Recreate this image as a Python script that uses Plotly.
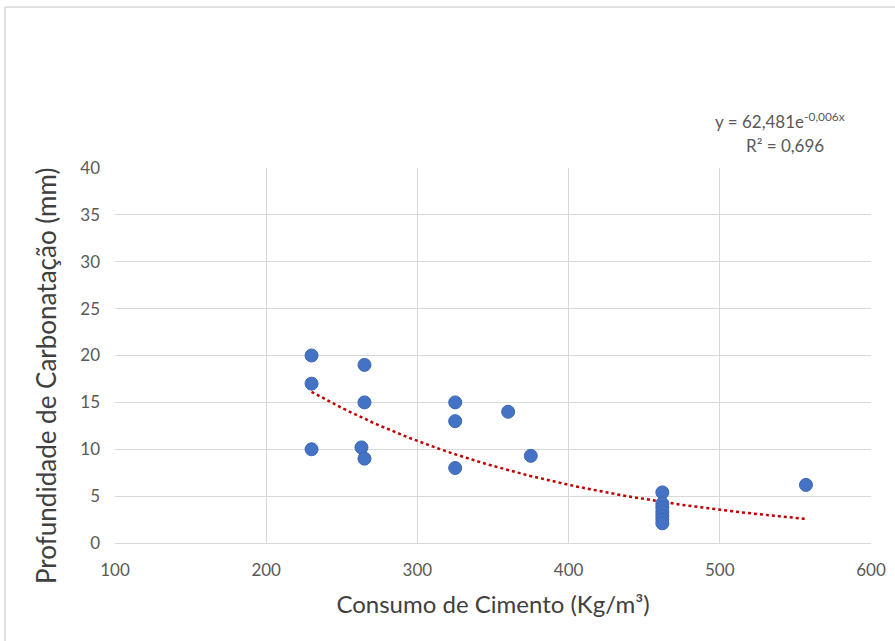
import numpy as np
import plotly.graph_objects as go

cimento = [230, 230, 230, 265, 265, 263, 265, 325, 325, 325, 360, 375,
           462, 462, 462, 462, 462, 462, 462, 557]
profundidade = [20, 17, 10, 19, 15, 10.2, 9, 15, 13, 8, 14, 9.3,
                5.4, 4.2, 3.8, 3.3, 2.9, 2.5, 2.1, 6.2]
x_ticks = [100, 200, 300, 400, 500, 600]
y_ticks = [0, 5, 10, 15, 20, 25, 30, 35, 40]
x_title = "Consumo de Cimento (Kg/m³)"
y_title = "Profundidade de Carbonatação (mm)"
eq_text = "y = 62,481e<sup>-0,006x</sup>"
r2_text = "R² = 0,696"

# exponential trendline (least squares on log y, as in Excel)
xa = np.array(cimento, dtype=float)
ya = np.array(profundidade, dtype=float)
b, lna = np.polyfit(xa, np.log(ya), 1)
xt = np.linspace(xa.min(), xa.max(), 200)
yt = np.exp(lna) * np.exp(b * xt)

# plot-area pixel geometry
L, R, T, B = 115, 24, 168, 98
PW, PH = 895 - L - R, 641 - T - B


def px(xp):
    return (xp - L) / PW


def py(yp):
    return (641 - B - yp) / PH


fig = go.Figure()
fig.add_trace(go.Scatter(x=xt, y=yt, mode="lines",
                         line=dict(color="#C00000", width=2.5, dash="dot"),
                         hoverinfo="skip", showlegend=False))
fig.add_trace(go.Scatter(x=cimento, y=profundidade, mode="markers",
                         marker=dict(color="#4472C4", size=13,
                                     line=dict(color="#3D68B5", width=1)),
                         showlegend=False))

font_family = "Lato, 'Open Sans', sans-serif"
fig.update_layout(
    width=895, height=641,
    margin=dict(l=L, r=R, t=T, b=B),
    paper_bgcolor="white", plot_bgcolor="white",
    font=dict(family=font_family, color="#595959", size=17),
    xaxis=dict(range=[100, 600], tickvals=x_ticks, showgrid=True,
               gridcolor="#D9D9D9", gridwidth=1, zeroline=False,
               showline=True, linecolor="#D9D9D9", linewidth=1,
               ticks="", ticklabelstandoff=12, automargin=False,
               tickfont=dict(size=17, color="#595959"),
               title=dict(text=x_title,
                          font=dict(size=24, color="#404040"), standoff=16)),
    yaxis=dict(range=[0, 40], tickvals=y_ticks, showgrid=True,
               gridcolor="#D9D9D9", gridwidth=1, zeroline=False,
               showline=False, ticks="", ticklabelstandoff=14,
               automargin=False,
               tickfont=dict(size=17, color="#595959")),
)
fig.add_annotation(xref="paper", yref="paper", x=px(46), y=py(376),
                   text=y_title, textangle=-90, showarrow=False,
                   xanchor="center", yanchor="middle",
                   font=dict(size=26, color="#404040"))
fig.add_annotation(xref="paper", yref="paper", x=px(780), y=py(107),
                   text=eq_text, showarrow=False, xanchor="center",
                   font=dict(size=17, color="#595959"))
fig.add_annotation(xref="paper", yref="paper", x=px(785), y=py(133),
                   text=r2_text, showarrow=False, xanchor="center",
                   font=dict(size=17, color="#595959"))
# chart border (top and left visible)
fig.add_shape(type="line", xref="paper", yref="paper",
              x0=px(5), x1=px(895), y0=py(7), y1=py(7),
              line=dict(color="#D9D9D9", width=1.5))
fig.add_shape(type="line", xref="paper", yref="paper",
              x0=px(5), x1=px(5), y0=py(7), y1=py(641),
              line=dict(color="#D9D9D9", width=1.5))

fig.write_html("out.html")
